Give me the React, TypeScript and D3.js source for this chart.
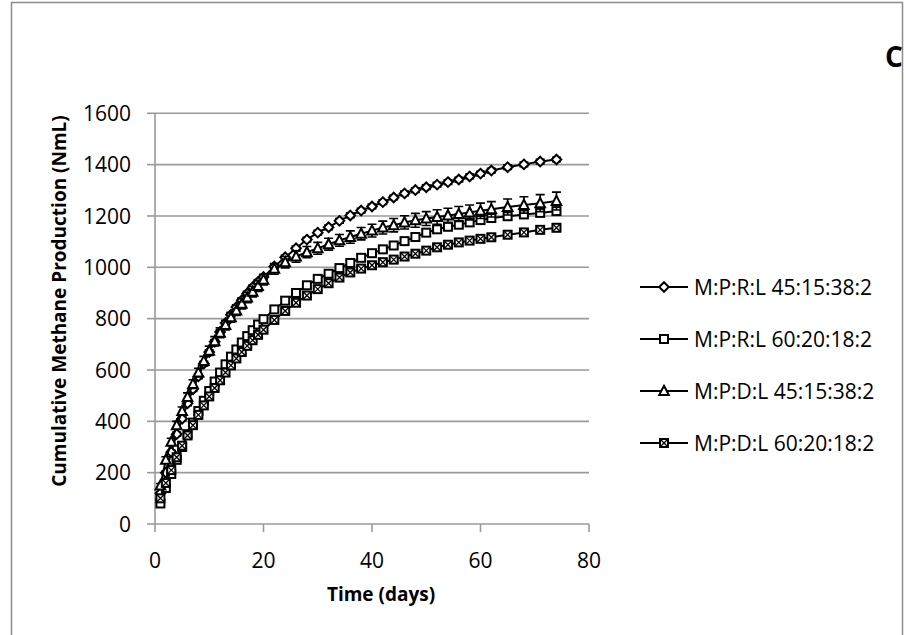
import React from "react";
import * as d3 from "d3";

const days = [1,2,3,4,5,6,7,8,9,10,11,12,13,14,15,16,17,18,19,20,22,24,26,28,30,32,34,36,38,40,42,44,46,48,50,52,54,56,58,60,62,65,68,71,74];

const rl45 = [120,200,280,350,410,470,525,575,625,670,710,748,783,815,845,872,898,922,943,962,1003,1039,1074,1108,1135,1156,1181,1202,1221,1237,1254,1272,1288,1301,1312,1322,1332,1342,1354,1365,1377,1390,1401,1412,1420];
const rl60 = [80,140,195,250,300,350,395,440,480,518,555,590,622,652,680,707,732,755,777,798,836,870,900,930,955,975,997,1017,1037,1055,1070,1085,1102,1118,1135,1148,1158,1166,1175,1184,1192,1199,1206,1212,1219];
const dl45 = [150,250,320,385,440,495,545,590,635,675,712,745,775,805,832,858,882,905,927,952,994,1020,1042,1059,1074,1090,1105,1118,1131,1143,1155,1164,1175,1183,1190,1196,1202,1208,1214,1220,1226,1235,1243,1250,1258];
const dl60 = [100,160,210,260,305,345,385,425,462,497,530,560,590,618,645,670,694,716,737,757,795,830,862,890,915,938,960,980,995,1008,1020,1030,1042,1053,1065,1078,1088,1097,1104,1111,1117,1127,1136,1146,1154];

const errRl45 = [5,6,7,8,8,9,9,9,9,9,9,9,9,9,9,9,9,9,9,9,9,9,9,9,9,9,9,9,9,9,9,9,9,9,9,9,9,9,9,9,9,9,9,9,9];
const errRl60 = [6,8,9,10,10,11,11,11,12,12,12,12,12,12,12,12,12,12,12,12,12,12,12,12,12,12,12,12,12,12,12,12,12,12,12,12,12,12,12,12,12,13,13,13,13];
const errDl45 = [8,12,14,15,16,16,17,17,18,18,18,19,19,19,20,20,20,20,21,21,21,22,22,22,23,23,23,24,24,25,25,26,26,27,27,28,28,29,29,30,30,31,32,33,35];
const errDl60 = [4,5,5,6,6,6,6,6,6,6,6,6,6,6,6,6,6,6,6,6,6,6,6,6,6,6,6,6,6,6,6,6,6,6,6,6,6,6,6,6,6,6,6,6,6];

const seriesNames = ["M:P:R:L 45:15:38:2", "M:P:R:L 60:20:18:2", "M:P:D:L 45:15:38:2", "M:P:D:L 60:20:18:2"];
const markerTypes = ["diamond", "square", "triangle", "xsquare"];
const seriesValues = [rl45, rl60, dl45, dl60];
const seriesErrors = [errRl45, errRl60, errDl45, errDl60];

const xTicks = [0, 20, 40, 60, 80];
const yTicks = [0, 200, 400, 600, 800, 1000, 1200, 1400, 1600];

const FONT = "'Open Sans', sans-serif";
const GRID = "#9a9a9a";

function Marker({ type, x, y }: { type: string; x: number; y: number }) {
  const s = 4;
  const sw = 2;
  if (type === "diamond") {
    return <path d={`M${x},${y - s - 0.8}L${x + s + 0.8},${y}L${x},${y + s + 0.8}L${x - s - 0.8},${y}Z`} fill="#fff" stroke="#000" strokeWidth={sw} />;
  }
  if (type === "square") {
    return <rect x={x - s} y={y - s} width={2 * s} height={2 * s} fill="#fff" stroke="#000" strokeWidth={sw} />;
  }
  if (type === "triangle") {
    return <path d={`M${x},${y - s - 1.2}L${x + s + 0.8},${y + s}L${x - s - 0.8},${y + s}Z`} fill="#fff" stroke="#000" strokeWidth={sw} />;
  }
  return (
    <g>
      <rect x={x - s} y={y - s} width={2 * s} height={2 * s} fill="#fff" stroke="#000" strokeWidth={sw} />
      <path d={`M${x - s},${y - s}L${x + s},${y + s}M${x + s},${y - s}L${x - s},${y + s}`} stroke="#000" strokeWidth={1.3} />
    </g>
  );
}

export default function App() {
  const W = 906, H = 635;
  const left = 155, right = 589, top = 113.3, bottom = 524;
  const x = d3.scaleLinear().domain([0, 80]).range([left, right]);
  const y = d3.scaleLinear().domain([0, 1600]).range([bottom, top]);
  const line = d3.line<number>().x((_, i) => x(days[i])).y((v) => y(v));

  const legendX = 640, legendY0 = 287, legendStep = 52;

  return (
    <svg width={W} height={H} style={{ position: "absolute", left: 0, top: 0, background: "#fff" }}>
      <rect x={0} y={0} width={W} height={H} fill="#fff" />
      <rect x={11.5} y={2.5} width={891} height={660} fill="none" stroke="#8c8c8c" strokeWidth={1.5} />
      {yTicks.map((t) => (
        <g key={"y" + t}>
          {t > 0 && <line x1={left} x2={right} y1={y(t)} y2={y(t)} stroke={GRID} strokeWidth={1.6} />}
          <line x1={left - 8} x2={left} y1={y(t)} y2={y(t)} stroke={GRID} strokeWidth={1.6} />
          <text x={131} y={y(t)} dy="0.36em" textAnchor="end" fontFamily={FONT} fontSize={21} fill="#000">{t}</text>
        </g>
      ))}
      <line x1={left} x2={left} y1={top} y2={bottom} stroke={GRID} strokeWidth={1.6} />
      <line x1={left} x2={right} y1={bottom} y2={bottom} stroke={GRID} strokeWidth={1.6} />
      {xTicks.map((t) => (
        <g key={"x" + t}>
          <line x1={x(t)} x2={x(t)} y1={bottom} y2={bottom + 8} stroke={GRID} strokeWidth={1.6} />
          <text x={x(t)} y={560} dy="0.36em" textAnchor="middle" fontFamily={FONT} fontSize={21} fill="#000">{t}</text>
        </g>
      ))}
      <text x={381} y={594} dy="0.36em" textAnchor="middle" fontFamily={FONT} fontSize={19} fontWeight="bold" fill="#000">Time (days)</text>
      <text transform={`translate(59,301) rotate(-90)`} dy="0.36em" textAnchor="middle" fontFamily={FONT} fontSize={19} fontWeight="bold" fill="#000">Cumulative Methane Production (NmL)</text>
      <text x={894} y={57} dy="0.36em" textAnchor="middle" fontFamily={FONT} fontSize={28} fontWeight="bold" fill="#000">C</text>

      {seriesValues.map((vals, si) => (
        <g key={"s" + si}>
          <path d={line(vals) || ""} fill="none" stroke="#000" strokeWidth={2} />
          {vals.map((v, i) => {
            const e = seriesErrors[si][i];
            const cx = x(days[i]);
            return (
              <path key={i} d={`M${cx},${y(v - e)}V${y(v + e)}M${cx - 4.5},${y(v + e)}H${cx + 4.5}M${cx - 4.5},${y(v - e)}H${cx + 4.5}`} stroke="#000" strokeWidth={1.6} fill="none" />
            );
          })}
          {vals.map((v, i) => (
            <Marker key={"m" + i} type={markerTypes[si]} x={x(days[i])} y={y(v)} />
          ))}
        </g>
      ))}

      {seriesNames.map((name, i) => {
        const ly = legendY0 + i * legendStep;
        return (
          <g key={"l" + i}>
            <line x1={legendX} x2={legendX + 48} y1={ly} y2={ly} stroke="#000" strokeWidth={2} />
            <Marker type={markerTypes[i]} x={legendX + 24} y={ly} />
            <text x={legendX + 54} y={ly} dy="0.36em" fontFamily={FONT} fontSize={21} fill="#000">{name}</text>
          </g>
        );
      })}
    </svg>
  );
}
